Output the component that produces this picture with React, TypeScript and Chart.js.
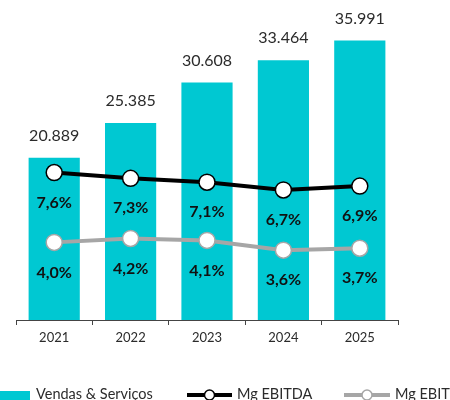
import React, { useEffect, useRef } from "react";
import { Chart, registerables } from "chart.js";

Chart.register(...registerables);

const years = ["2021", "2022", "2023", "2024", "2025"];
const vendas = [20889, 25385, 30608, 33464, 35991];
const mgEbitda = [7.6, 7.3, 7.1, 6.7, 6.9];
const mgEbit = [4.0, 4.2, 4.1, 3.6, 3.7];

const TEAL = "#00C8D2";
const GRAY = "#A6A6A6";
const FONT = "Lato, 'Open Sans', sans-serif";

const fmtThousands = (v: number) =>
  v.toString().replace(/\B(?=(\d{3})+(?!\d))/g, ".");
const fmtPct = (v: number) => v.toFixed(1).replace(".", ",") + "%";

const labelsPlugin = {
  id: "customLabels",
  afterDatasetsDraw(chart: any) {
    const ctx = chart.ctx;
    ctx.save();
    ctx.textAlign = "center";
    const barMeta = chart.getDatasetMeta(2);
    ctx.font = `400 16px ${FONT}`;
    ctx.fillStyle = "#2b2b2b";
    ctx.textBaseline = "middle";
    barMeta.data.forEach((el: any, i: number) => {
      ctx.fillText(fmtThousands(vendas[i]), el.x, el.y - 22);
    });
    ctx.font = `700 16px ${FONT}`;
    ctx.fillStyle = "#111";
    const m0 = chart.getDatasetMeta(0);
    m0.data.forEach((el: any, i: number) => {
      ctx.fillText(fmtPct(mgEbitda[i]), el.x, el.y + 30);
    });
    const m1 = chart.getDatasetMeta(1);
    m1.data.forEach((el: any, i: number) => {
      ctx.fillText(fmtPct(mgEbit[i]), el.x, el.y + 30);
    });
    ctx.restore();
  },
  afterDraw(chart: any) {
    const ctx = chart.ctx;
    ctx.save();
    const y = 394;
    ctx.font = `400 14.5px ${FONT}`;
    ctx.textBaseline = "middle";
    ctx.textAlign = "left";
    ctx.fillStyle = TEAL;
    ctx.fillRect(0, 391, 30, 9);
    ctx.fillStyle = "#2b2b2b";
    ctx.fillText("Vendas & Serviços", 36, y);
    const lineItem = (x0: number, x1: number, color: string, text: string) => {
      ctx.strokeStyle = color;
      ctx.lineWidth = 4;
      ctx.beginPath();
      ctx.moveTo(x0, y + 1);
      ctx.lineTo(x1, y + 1);
      ctx.stroke();
      ctx.beginPath();
      ctx.arc((x0 + x1) / 2, y + 1, 5, 0, Math.PI * 2);
      ctx.fillStyle = "#fff";
      ctx.fill();
      ctx.lineWidth = 1.5;
      ctx.stroke();
      ctx.fillStyle = "#2b2b2b";
      ctx.fillText(text, x1 + 5, y);
    };
    lineItem(187, 232, "#000", "Mg EBITDA");
    lineItem(344, 390, GRAY, "Mg EBIT");
    ctx.restore();
  },
};

export default function App() {
  const ref = useRef<HTMLCanvasElement>(null);
  useEffect(() => {
    document.body.style.margin = "0";
    const chart = new Chart(ref.current!, {
      type: "bar",
      data: {
        labels: years,
        datasets: [
          {
            type: "line",
            label: "Mg EBITDA",
            data: mgEbitda,
            yAxisID: "y2",
            borderColor: "#000",
            borderWidth: 4,
            pointRadius: 8,
            pointBackgroundColor: "#fff",
            pointBorderColor: "#000",
            pointBorderWidth: 1.5,
            tension: 0,
            order: 1,
          } as any,
          {
            type: "line",
            label: "Mg EBIT",
            data: mgEbit,
            yAxisID: "y2",
            borderColor: GRAY,
            borderWidth: 4,
            pointRadius: 8,
            pointBackgroundColor: "#fff",
            pointBorderColor: GRAY,
            pointBorderWidth: 1.5,
            tension: 0,
            order: 2,
          } as any,
          {
            type: "bar",
            label: "Vendas & Serviços",
            data: vendas,
            yAxisID: "y",
            backgroundColor: TEAL,
            barPercentage: 0.67,
            categoryPercentage: 1,
            order: 3,
          },
        ],
      },
      options: {
        responsive: false,
        animation: false,
        layout: { padding: { left: 16, right: 52, top: 0, bottom: 0 } },
        plugins: {
          legend: { display: false },
          tooltip: { enabled: false },
        },
        scales: {
          x: {
            offset: true,
            border: { display: true, color: "#444", width: 1 },
            grid: {
              display: true,
              drawOnChartArea: false,
              drawTicks: true,
              tickLength: 5,
              offset: true,
              color: "#444",
            },
            ticks: {
              color: "#2b2b2b",
              font: { family: FONT, size: 13 },
              padding: 5,
            },
            afterFit: (s: any) => {
              s.height = 80;
            },
          },
          y: {
            display: false,
            min: 0,
            max: 40000,
          },
          y2: {
            display: false,
            min: 0,
            max: 16,
          },
        },
      },
      plugins: [labelsPlugin],
    });
    return () => chart.destroy();
  }, []);
  return <canvas ref={ref} width={450} height={400} style={{ display: "block" }} />;
}
